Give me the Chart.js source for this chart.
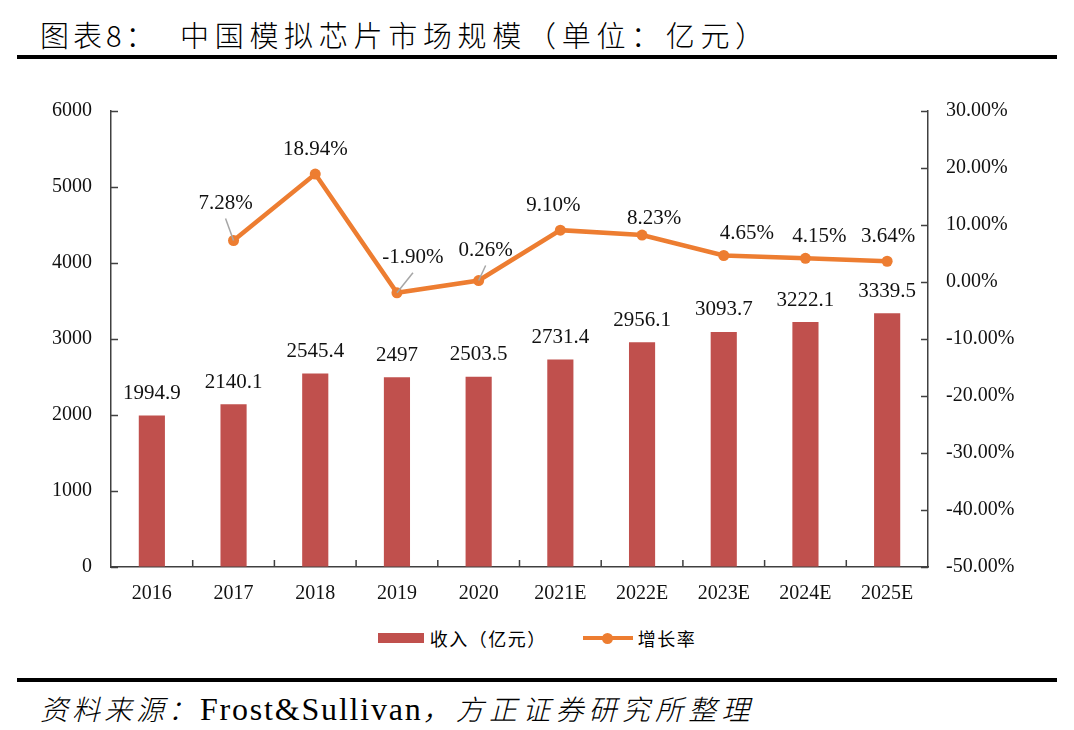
<!DOCTYPE html>
<html>
<head>
<meta charset="utf-8">
<script src="https://cdn.jsdelivr.net/npm/chart.js@4.4.0/dist/chart.umd.min.js"></script>
<style>
  body { margin: 0; background: #fff; width: 1074px; height: 730px; position: relative; overflow: hidden; }
  .cjk { font-family: "Noto Sans CJK SC", sans-serif; }
  .rule { position: absolute; left: 17px; width: 1040px; background: #000; }
  #title span { position: absolute; top: 19px; line-height: 30px; font-size: 29px; letter-spacing: 5.7px; color: #000; white-space: nowrap; font-weight: 300; }
  #wrap { position: absolute; left: 0; top: 60px; width: 1074px; height: 560px; }
  #legend { position: absolute; left: 0; top: 626px; width: 1074px; height: 24px; display: flex; justify-content: center; align-items: center; font-size: 18px; color: #000; }
  #legend .item { display: flex; align-items: center; }
  #legend .item + .item { margin-left: 36px; }
  #source { position: absolute; left: 40px; top: 693px; line-height: 30px; white-space: nowrap; color: #000; }
  #source .it { font-style: italic; font-size: 28px; letter-spacing: 4px; font-weight: 300; }
  #source .it2 { letter-spacing: 5.2px; }
  #source .en { font-family: "Liberation Serif", serif; font-size: 32px; letter-spacing: 1.8px; }
</style>
</head>
<body>
<div id="title" class="cjk">
  <span style="left:40px;letter-spacing:4px">图表8：</span>
  <span style="left:180px">中国模拟芯片市场规模（单位：亿元）</span>
</div>
<div class="rule" style="top:55px;height:4px"></div>

<div id="wrap"><canvas id="myChart" width="1074" height="560"></canvas></div>
<div id="legend" class="cjk"></div>

<div class="rule" style="top:678px;height:4px"></div>
<div id="source"><span class="it cjk">资料来源：</span><span class="en">Frost&amp;Sullivan</span><span class="it it2 cjk">，方正证券研究所整理</span></div>

<script>
var years = ["2016", "2017", "2018", "2019", "2020", "2021E", "2022E", "2023E", "2024E", "2025E"];
var revenue = [1994.9, 2140.1, 2545.4, 2497, 2503.5, 2731.4, 2956.1, 3093.7, 3222.1, 3339.5];
var growth = [null, 7.28, 18.94, -1.90, 0.26, 9.10, 8.23, 4.65, 4.15, 3.64];
var seriesNames = ["收入（亿元）", "增长率"];

var barColor = "#C0504D";
var lineColor = "#ED7D31";
var axisColor = "#404040";
var numFont = "'Liberation Serif', 'Times New Roman', serif";

// label nudges for the growth line, so they sit like in the original
var growthShift = [null, [-8, -37], [0, -25], [16, -35], [7, -30], [-7, -25], [12, -17], [23, -22], [14, -22], [1, -25]];
var withLeader = [1, 3, 4];

var valueLabels = {
    id: "valueLabels",
    afterDatasetsDraw: function (chart) {
        var ctx = chart.ctx;
        ctx.save();
        ctx.font = "21px " + numFont;
        ctx.fillStyle = "#111";
        ctx.textAlign = "center";
        ctx.textBaseline = "middle";

        chart.getDatasetMeta(0).data.forEach(function (bar, i) {
            ctx.fillText(String(revenue[i]), bar.x, bar.y - 22);
        });

        chart.getDatasetMeta(1).data.forEach(function (pt, i) {
            if (growth[i] === null) return;
            var lx = pt.x + growthShift[i][0];
            var ly = pt.y + growthShift[i][1];
            if (withLeader.indexOf(i) >= 0) {
                ctx.strokeStyle = "#A6A6A6";
                ctx.lineWidth = 1.5;
                ctx.beginPath();
                ctx.moveTo(pt.x, pt.y);
                ctx.lineTo(lx, ly + 15);
                ctx.stroke();
            }
            ctx.fillText(growth[i].toFixed(2) + "%", lx, ly);
        });
        ctx.restore();
    }
};

// short tick marks pointing into the plot, as in the Excel original
var innerTicks = {
    id: "innerTicks",
    afterDraw: function (chart) {
        var ctx = chart.ctx, area = chart.chartArea, s = chart.scales;
        ctx.save();
        ctx.strokeStyle = axisColor;
        ctx.lineWidth = 1.5;
        ctx.beginPath();
        s.y.ticks.forEach(function (t) {
            var y = Math.round(s.y.getPixelForValue(t.value)) + 0.5;
            ctx.moveTo(area.left, y);
            ctx.lineTo(area.left + 7, y);
        });
        s.y1.ticks.forEach(function (t) {
            var y = Math.round(s.y1.getPixelForValue(t.value)) + 0.5;
            ctx.moveTo(area.right, y);
            ctx.lineTo(area.right - 7, y);
        });
        for (var i = 1; i < years.length; i++) {
            var x = (s.x.getPixelForValue(i - 1) + s.x.getPixelForValue(i)) / 2;
            ctx.moveTo(x, area.bottom);
            ctx.lineTo(x, area.bottom - 7);
        }
        ctx.stroke();
        ctx.restore();
    }
};

var ctx = document.getElementById("myChart").getContext("2d");
var myChart = new Chart(ctx, {
    type: "bar",
    data: {
        labels: years,
        datasets: [
            {
                type: "bar",
                label: seriesNames[0],
                data: revenue,
                backgroundColor: barColor,
                barPercentage: 0.32,
                categoryPercentage: 1,
                yAxisID: "y",
                order: 2
            },
            {
                type: "line",
                label: seriesNames[1],
                data: growth,
                borderColor: lineColor,
                backgroundColor: lineColor,
                borderWidth: 4.5,
                pointRadius: 5.5,
                pointBorderWidth: 0,
                pointBackgroundColor: lineColor,
                tension: 0,
                fill: false,
                yAxisID: "y1",
                order: 1
            }
        ]
    },
    options: {
        responsive: false,
        animation: false,
        events: [],
        layout: { padding: { top: 51, left: 0, right: 0, bottom: 0 } },
        plugins: {
            legend: { display: false },
            tooltip: { enabled: false }
        },
        scales: {
            x: {
                offset: true,
                grid: { display: true, drawOnChartArea: false, drawTicks: false },
                border: { display: true, color: axisColor, width: 1.5 },
                ticks: { color: "#111", padding: 15, font: { family: numFont, size: 20 } },
                afterFit: function (scale) { scale.height = 53; }
            },
            y: {
                position: "left",
                min: 0,
                max: 6000,
                ticks: {
                    stepSize: 1000,
                    color: "#111",
                    padding: 19,
                    font: { family: numFont, size: 20 },
                    callback: function (v) { return String(v); }
                },
                grid: { display: true, drawOnChartArea: false, drawTicks: false },
                border: { display: true, color: axisColor, width: 1.5 },
                afterFit: function (scale) { scale.width = 111; }
            },
            y1: {
                position: "right",
                min: -50,
                max: 30,
                ticks: {
                    stepSize: 10,
                    color: "#111",
                    padding: 18,
                    font: { family: numFont, size: 20 },
                    callback: function (v) { return v.toFixed(2) + "%"; }
                },
                grid: { display: true, drawOnChartArea: false, drawTicks: false },
                border: { display: true, color: axisColor, width: 1.5 },
                afterFit: function (scale) { scale.width = 146; }
            }
        }
    },
    plugins: [valueLabels, innerTicks]
});

// html legend built from the chart's own datasets
var legendBox = document.getElementById("legend");
myChart.data.datasets.forEach(function (ds) {
    var item = document.createElement("div");
    item.className = "item";
    var sw = document.createElement("span");
    if (ds.type === "bar") {
        sw.style.cssText = "display:inline-block;width:46px;height:10px;margin-right:6px;background:" + ds.backgroundColor;
    } else {
        sw.style.cssText = "display:inline-block;position:relative;width:50px;height:10px;margin-right:5px;";
        sw.innerHTML = '<span style="position:absolute;left:0;top:3px;width:50px;height:4px;background:' + ds.borderColor + '"></span>' +
            '<span style="position:absolute;left:19px;top:-0.5px;width:11px;height:11px;border-radius:50%;background:' + ds.borderColor + '"></span>';
    }
    var txt = document.createElement("span");
    txt.textContent = ds.label;
    txt.style.letterSpacing = "1.5px";
    item.appendChild(sw);
    item.appendChild(txt);
    legendBox.appendChild(item);
});
</script>
</body>
</html>
